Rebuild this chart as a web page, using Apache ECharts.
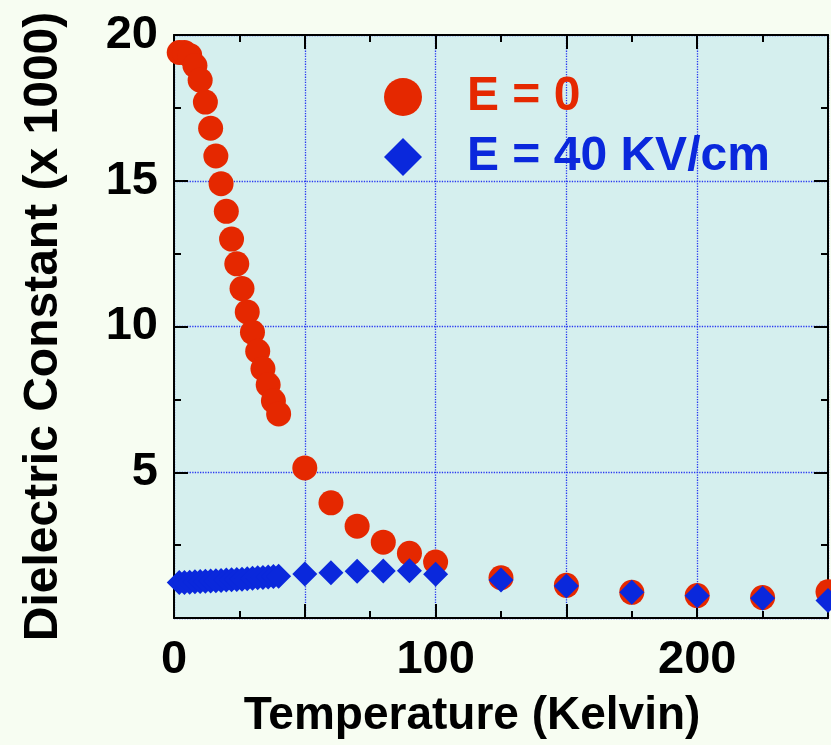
<!DOCTYPE html>
<html>
<head>
<meta charset="utf-8">
<script src="https://cdn.jsdelivr.net/npm/echarts@6/dist/echarts.min.js"></script>
<style>
html,body{margin:0;padding:0;background:#F7FDF2;}
#chart{width:831px;height:745px;}
</style>
</head>
<body>
<div id="chart"></div>
<script>
// Temperatures (Kelvin)
const temps = [2, 4, 6, 8, 10, 12, 14, 16, 18, 20, 22, 24, 26, 28, 30, 32, 34, 36, 38, 40,
               50, 60, 70, 80, 90, 100, 125, 150, 175, 200, 225, 250];
// Dielectric constant (x 1000), E = 0
const e0 = [19.4, 19.4, 19.3, 18.95, 18.45, 17.7, 16.8, 15.85, 14.9, 13.95, 13.0, 12.15, 11.3, 10.5,
            9.8, 9.15, 8.55, 8.0, 7.45, 7.0,
            5.15, 3.95, 3.15, 2.6, 2.22, 1.92, 1.38, 1.12, 0.88, 0.77, 0.70, 0.90];
// Dielectric constant (x 1000), E = 40 KV/cm
const e40 = [1.22, 1.22, 1.23, 1.24, 1.25, 1.26, 1.27, 1.28, 1.29, 1.30, 1.31, 1.32, 1.33, 1.35,
             1.36, 1.38, 1.39, 1.41, 1.42, 1.43,
             1.51, 1.55, 1.60, 1.61, 1.62, 1.50, 1.30, 1.10, 0.88, 0.76, 0.68, 0.60];
const seriesNames = ['E = 0', 'E = 40 KV/cm'];
const xTickLabels = ['0', '100', '200'];
const yTickLabels = ['5', '10', '15', '20'];

const RED = '#E52800', BLUE = '#0A28DC';
const FONT = '"Liberation Sans", Arial, Helvetica, sans-serif';

const chart = echarts.init(document.getElementById('chart'), null, {renderer: 'canvas'});

const tickCommon = {show: true, inside: true, length: 14, lineStyle: {color: '#000', width: 2}};
const minorCommon = {show: true, splitNumber: 2, length: 7, lineStyle: {color: '#000', width: 2}};
const lineCommon = {show: true, onZero: false, lineStyle: {color: '#000', width: 2}};
const gridLine = {show: true, lineStyle: {color: '#2838F0', type: 'dotted', width: 1.3}};

chart.setOption({
  backgroundColor: '#F7FDF2',
  animation: false,
  grid: {left: 174, top: 35, right: 3, bottom: 127, show: true, backgroundColor: '#D5EFEE', borderWidth: 0},
  xAxis: [{
    type: 'value', min: 0, max: 250, interval: 50, position: 'bottom',
    axisLine: lineCommon, axisTick: tickCommon, minorTick: minorCommon,
    splitLine: gridLine,
    axisLabel: {
      margin: 19, fontSize: 47, fontWeight: 'bold', color: '#000', fontFamily: FONT,
      formatter: v => xTickLabels.includes(String(v)) ? String(v) : ''
    },
    name: 'Temperature (Kelvin)', nameLocation: 'middle', nameGap: 75,
    nameTextStyle: {fontSize: 46, fontWeight: 'bold', color: '#000', fontFamily: FONT, padding: [0, 58, 0, 0]}
  }, {
    type: 'value', min: 0, max: 250, interval: 50, position: 'top',
    axisLine: lineCommon, axisTick: tickCommon, minorTick: minorCommon,
    splitLine: {show: false}, axisLabel: {show: false}
  }],
  yAxis: [{
    type: 'value', min: 0, max: 20, interval: 5, position: 'left',
    axisLine: lineCommon, axisTick: tickCommon, minorTick: minorCommon,
    splitLine: gridLine,
    axisLabel: {
      margin: 16, fontSize: 47, fontWeight: 'bold', color: '#000', fontFamily: FONT,
      formatter: v => yTickLabels.includes(String(v)) ? String(v) : ''
    },
    name: 'Dielectric Constant (x 1000)', nameLocation: 'middle', nameGap: 106, nameRotate: 90,
    nameTextStyle: {fontSize: 48, fontWeight: 'bold', color: '#000', fontFamily: FONT}
  }, {
    type: 'value', min: 0, max: 20, interval: 5, position: 'right',
    axisLine: lineCommon, axisTick: tickCommon, minorTick: minorCommon,
    splitLine: {show: false}, axisLabel: {show: false}
  }],
  legend: {
    orient: 'vertical', left: 379, top: 68,
    itemWidth: 38, itemHeight: 38, itemGap: 12,
    textStyle: {fontSize: 48, fontWeight: 'bold', fontFamily: FONT, lineHeight: 38, padding: [0, 0, 0, 40]},
    data: [
      {name: seriesNames[0], icon: 'circle', textStyle: {color: RED}},
      {name: seriesNames[1], icon: 'diamond', textStyle: {color: BLUE}}
    ]
  },
  series: [{
    name: seriesNames[0], type: 'scatter', symbol: 'circle', symbolSize: 25, clip: false,
    itemStyle: {color: RED, opacity: 1},
    data: temps.map((t, i) => [t, e0[i]])
  }, {
    name: seriesNames[1], type: 'scatter', symbol: 'diamond', symbolSize: 25, clip: false,
    itemStyle: {color: BLUE, opacity: 1},
    data: temps.map((t, i) => [t, e40[i]])
  }]
});
</script>
</body>
</html>
